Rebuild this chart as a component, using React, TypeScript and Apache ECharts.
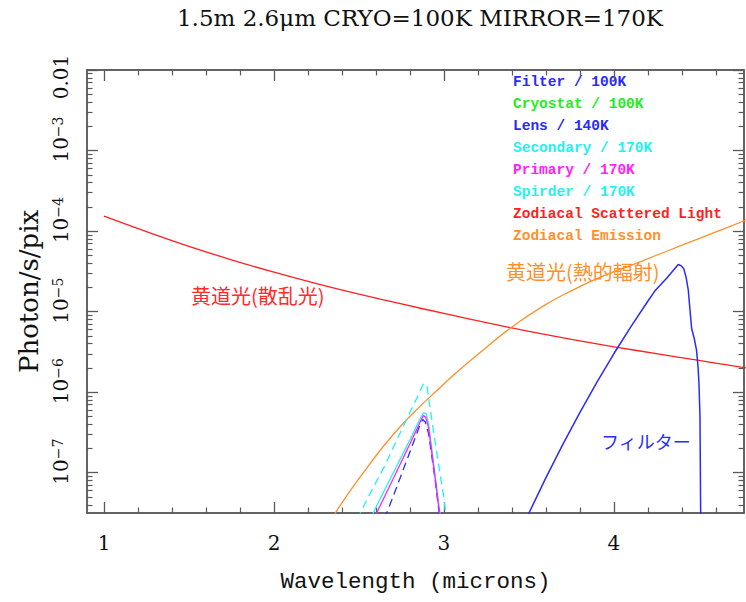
import React, { useEffect, useRef } from 'react';
import * as echarts from 'echarts';

// ---------- texts ----------
const titleText = '1.5m 2.6μm CRYO=100K MIRROR=170K';
const xAxisName = 'Wavelength (microns)';
const yAxisName = 'Photon/s/pix';
const legendNames = [
  'Filter / 100K',
  'Cryostat / 100K',
  'Lens / 140K',
  'Secondary / 170K',
  'Primary / 170K',
  'Spirder / 170K',
  'Zodiacal Scattered Light',
  'Zodiacal Emission',
];
const legendColors = ['#2a2aff', '#22ee22', '#2a2aff', '#1ff2f2', '#ff22ff', '#1ff2f2', '#ff1f1f', '#ff8f2a'];
const annotations = [
  { text: '黄道光(散乱光)', color: '#ff2a2a' },
  { text: '黄道光(熱的輻射)', color: '#ff8f2a' },
  { text: 'フィルター', color: '#2a2aff' },
];

// ---------- axes ----------
const X_MIN = 0.9;
const X_MAX = 4.765;
const xMajorTicks = [1, 2, 3, 4];
const xMinorTicks = [1.2, 1.4, 1.6, 1.8, 2.2, 2.4, 2.6, 2.8, 3.2, 3.4, 3.6, 3.8, 4.2, 4.4, 4.6];
const Y_MIN_EXP = -7.5;
const Y_MAX_EXP = -2;
const yMajorExps = [-7, -6, -5, -4, -3, -2];
const yTickLabels = ['10^−7', '10^−6', '10^−5', '10^−4', '10^−3', '0.01'];

// ---------- data: [wavelength (micron), photon/s/pix] ----------
const filterData = [
  [3.49, 2.5e-8], [3.5, 3.16e-8], [3.6, 8.7e-8], [3.7, 2.26e-7], [3.8, 5.62e-7],
  [3.9, 1.33e-6], [4.0, 3.02e-6], [4.1, 6.53e-6], [4.2, 1.355e-5], [4.24, 1.8e-5],
  [4.31, 2.6e-5], [4.378, 3.85e-5], [4.395, 3.72e-5], [4.41, 3.44e-5], [4.425, 2.63e-5],
  [4.437, 1.86e-5], [4.447, 1.07e-5], [4.457, 6.17e-6], [4.472, 4.68e-6], [4.486, 3.31e-6],
  [4.495, 2.0e-6], [4.5, 1.29e-6], [4.506, 5.0e-7], [4.51, 3.3e-8], [4.512, 2.5e-8],
];
const cryostatData: number[][] = [];
const lensData = [
  [2.65, 2.69e-8], [2.7, 5.0e-8], [2.8, 1.82e-7], [2.86, 3.98e-7], [2.875, 4.57e-7],
  [2.89, 4.27e-7], [2.91, 3.02e-7], [2.95, 7.59e-8], [2.975, 2.75e-8],
];
const secondaryData = [
  [2.57, 2.75e-8], [2.6, 3.72e-8], [2.7, 9.77e-8], [2.8, 2.57e-7], [2.86, 4.68e-7],
  [2.88, 5.56e-7], [2.895, 5.37e-7], [2.91, 3.98e-7], [2.95, 8.4e-8], [2.98, 2.75e-8],
];
const primaryData = [
  [2.59, 2.75e-8], [2.62, 3.72e-8], [2.7, 8.3e-8], [2.8, 2.29e-7], [2.86, 4.27e-7],
  [2.878, 5.13e-7], [2.893, 4.9e-7], [2.91, 3.55e-7], [2.95, 7.9e-8], [2.977, 2.75e-8],
];
const spirderData = [
  [2.49, 2.63e-8], [2.55, 4.79e-8], [2.65, 1.2e-7], [2.75, 3.39e-7], [2.85, 9.33e-7],
  [2.88, 1.29e-6], [2.9, 1.17e-6], [2.95, 2.24e-7], [3.0, 4.79e-8], [3.015, 2.5e-8],
];
const zodiScatterData = [
  [1.0, 1.53e-4], [1.25, 9.86e-5], [1.5, 6.47e-5], [1.75, 4.4e-5], [2.0, 3.09e-5],
  [2.25, 2.23e-5], [2.5, 1.65e-5], [2.75, 1.245e-5], [3.0, 9.5e-6], [3.25, 7.31e-6],
  [3.5, 5.7e-6], [3.75, 4.53e-6], [4.0, 3.66e-6], [4.25, 3.01e-6], [4.5, 2.48e-6],
  [4.8, 1.97e-6],
];
const zodiEmissionData = [
  [2.33, 2.5e-8], [2.36, 3.16e-8], [2.45, 6.03e-8], [2.55, 1.175e-7], [2.65, 2.21e-7],
  [2.75, 3.89e-7], [2.85, 6.38e-7], [2.95, 1.01e-6], [3.05, 1.585e-6], [3.2, 2.95e-6],
  [3.4, 6.46e-6], [3.6, 1.23e-5], [3.76, 1.86e-5], [3.9, 2.57e-5], [4.1, 3.76e-5],
  [4.25, 5.01e-5], [4.4, 6.68e-5], [4.6, 9.77e-5], [4.8, 1.43e-4],
];

const seriesData = [filterData, cryostatData, lensData, secondaryData, primaryData, spirderData, zodiScatterData, zodiEmissionData];
const seriesDashed = [false, false, true, false, false, true, false, false];
const drawOrder = [6, 7, 0, 1, 5, 3, 2, 4];

const SERIF = '"DejaVu Serif", "Liberation Serif", serif';
const MONO = '"Liberation Mono", "DejaVu Sans Mono", monospace';
const CJK = '"Noto Sans CJK JP", "Noto Sans", sans-serif';
const FRAME = '#5a5a5a';

function buildOption() {
  const toLog = (d: number[][]) => d.map(([x, v]) => [x, Math.log10(v)]);
  const yMinor: number[] = [];
  for (let n = -8; n <= -3; n++) {
    for (let k = 2; k <= 9; k++) {
      const v = n + Math.log10(k);
      if (v > Y_MIN_EXP && v < Y_MAX_EXP) yMinor.push(v);
    }
  }
  const xBase = {
    type: 'value', min: X_MIN, max: X_MAX, splitLine: { show: false },
    axisLine: { show: true, onZero: false, lineStyle: { color: FRAME, width: 1.5 } },
  };
  const yBase = {
    type: 'value', min: Y_MIN_EXP, max: Y_MAX_EXP, splitLine: { show: false },
    axisLine: { show: true, onZero: false, lineStyle: { color: FRAME, width: 1.5 } },
  };
  const major = (vals: number[]) => ({ show: true, inside: true, length: 11, customValues: vals, lineStyle: { color: FRAME, width: 1.3 } });
  const minor = (vals: number[]) => ({ show: true, inside: true, length: 5.5, customValues: vals, lineStyle: { color: FRAME, width: 1.2 } });

  const yLabelFmt = (value: number) => {
    const i = yMajorExps.findIndex((e) => Math.abs(e - value) < 1e-6);
    const lab = i >= 0 ? yTickLabels[i] : '';
    if (lab.indexOf('^') >= 0) {
      const [b, s] = lab.split('^');
      return `{b|${b}}{s|${s}}`;
    }
    return `{c|${lab}}`;
  };

  const series = drawOrder.map((i) => ({
    type: 'line',
    name: legendNames[i],
    xAxisIndex: 0,
    yAxisIndex: 0,
    data: toLog(seriesData[i]),
    showSymbol: false,
    symbol: 'none',
    smooth: i >= 6 ? 0.4 : false,
    clip: true,
    lineStyle: { color: legendColors[i], width: i === 0 ? 1.5 : 1.3, type: seriesDashed[i] ? [8, 5] : 'solid' },
    z: 2,
  }));

  const legendTexts = legendNames.map((name, i) => ({
    type: 'text', left: 513, top: 74 + i * 22,
    style: { text: name, fill: legendColors[i], font: `bold 14.5px ${MONO}` },
  }));

  const annotationPos = [
    { left: 191, top: 285, size: 20 },
    { left: 506, top: 261, size: 20 },
    { left: 601, top: 432, size: 18 },
  ];
  const annoTexts = annotations.map((a, i) => ({
    type: 'text', left: annotationPos[i].left, top: annotationPos[i].top,
    style: { text: a.text, fill: a.color, font: `${annotationPos[i].size}px ${CJK}` },
  }));

  return {
    animation: false,
    backgroundColor: '#ffffff',
    title: {
      text: titleText, left: 415, top: 1, textAlign: 'center',
      textStyle: { fontFamily: SERIF, fontSize: 23, fontWeight: 'normal', color: '#111' },
    },
    grid: { left: 87, right: 2, top: 70, bottom: 89, containLabel: false },
    xAxis: [
      {
        ...xBase, position: 'bottom', axisTick: major(xMajorTicks),
        axisLabel: { show: true, customValues: xMajorTicks, margin: 20, fontFamily: SERIF, fontSize: 20, color: '#111', formatter: (v: number) => String(v) },
        name: xAxisName, nameLocation: 'middle', nameGap: 57,
        nameTextStyle: { fontFamily: MONO, fontSize: 22.5, color: '#111' },
      },
      { ...xBase, position: 'bottom', axisTick: minor(xMinorTicks), axisLabel: { show: false } },
      { ...xBase, position: 'top', axisTick: major(xMajorTicks), axisLabel: { show: false } },
      { ...xBase, position: 'top', axisTick: minor(xMinorTicks), axisLabel: { show: false } },
    ],
    yAxis: [
      {
        ...yBase, position: 'left', axisTick: major(yMajorExps),
        axisLabel: {
          show: true, customValues: yMajorExps, rotate: 90, margin: 16, color: '#111',
          formatter: yLabelFmt,
          rich: {
            b: { fontFamily: SERIF, fontSize: 20, lineHeight: 20, verticalAlign: 'bottom', padding: [0, 0, 0, 22], color: '#111' },
            s: { fontFamily: SERIF, fontSize: 14, lineHeight: 16, verticalAlign: 'top', color: '#111' },
            c: { fontFamily: SERIF, fontSize: 20, lineHeight: 28, verticalAlign: 'bottom', padding: [0, 14, 0, 0], color: '#111' },
          },
        },
        name: yAxisName, nameLocation: 'middle', nameGap: 45,
        nameTextStyle: { fontFamily: SERIF, fontSize: 26, color: '#111' },
      },
      { ...yBase, position: 'left', axisTick: minor(yMinor), axisLabel: { show: false } },
      { ...yBase, position: 'right', axisTick: major(yMajorExps), axisLabel: { show: false } },
      { ...yBase, position: 'right', axisTick: minor(yMinor), axisLabel: { show: false } },
    ],
    series,
    graphic: [...legendTexts, ...annoTexts],
  };
}

export default function App() {
  const ref = useRef<HTMLDivElement>(null);
  useEffect(() => {
    if (!ref.current) return;
    const chart = echarts.init(ref.current, undefined, { renderer: 'svg' });
    chart.setOption(buildOption() as any);
    return () => chart.dispose();
  }, []);
  return (
    <div
      ref={ref}
      style={{ position: 'absolute', left: 0, top: 0, width: 746, height: 602, background: '#fff' }}
    />
  );
}
